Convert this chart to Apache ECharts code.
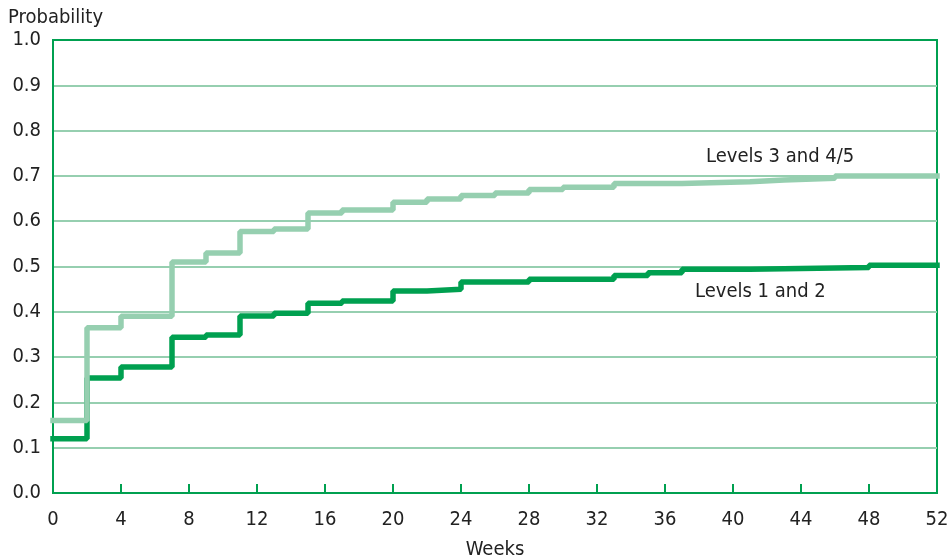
<!DOCTYPE html>
<html><head><meta charset="utf-8">
<script src="https://cdn.jsdelivr.net/npm/echarts@6/dist/echarts.min.js"></script>
<style>html,body{margin:0;padding:0;background:#fff}#c{width:948px;height:560px}</style>
</head><body><div id="c"></div>
<script>
// Week at which each step starts, and probability from that week on
const weeksLow = [0, 2, 4, 7, 9, 11, 13, 15, 17, 20, 22, 24, 28, 33, 35, 37, 41, 48, 52];
const probLow  = [0.12, 0.254, 0.278, 0.344, 0.349, 0.391, 0.397, 0.419, 0.424, 0.446, 0.450, 0.466, 0.472, 0.480, 0.486, 0.494, 0.498, 0.503, 0.503];
const weeksHigh = [0, 2, 4, 7, 9, 11, 13, 15, 17, 20, 22, 24, 26, 28, 30, 33, 37, 41, 43, 46, 52];
const probHigh  = [0.16, 0.365, 0.39, 0.51, 0.53, 0.577, 0.583, 0.618, 0.625, 0.642, 0.649, 0.657, 0.662, 0.670, 0.675, 0.683, 0.687, 0.691, 0.695, 0.700, 0.700];
const xTicks = [0, 4, 8, 12, 16, 20, 24, 28, 32, 36, 40, 44, 48, 52];
const yTicks = [0, 0.1, 0.2, 0.3, 0.4, 0.5, 0.6, 0.7, 0.8, 0.9, 1.0];
const labelHigh = 'Levels 3 and 4/5';
const labelLow = 'Levels 1 and 2';

const DARK = '#00a050', LIGHT = '#96cfb0';
const FONT = '"DejaVu Sans Condensed", "Liberation Sans Narrow", Roboto, sans-serif';
const FS = 20;
const chart = echarts.init(document.getElementById('c'));
const pairs = (xs, ys) => xs.map((x, i) => [x, ys[i]]);
chart.setOption({
  animation: false,
  grid: { left: 53, right: 11, top: 40, bottom: 67, containLabel: false, outerBoundsMode: 'none',
          show: true, borderColor: DARK, borderWidth: 2 },
  xAxis: {
    type: 'value', min: 0, max: 52, interval: 4,
    name: 'Weeks', nameLocation: 'middle', nameGap: 47,
    nameTextStyle: { fontFamily: FONT, fontSize: FS, color: '#222' },
    axisLine: { lineStyle: { color: DARK, width: 2 } },
    axisTick: { inside: true, length: 9, lineStyle: { color: DARK, width: 2 } },
    axisLabel: { fontFamily: FONT, fontSize: FS, color: '#222', margin: 17 },
    splitLine: { show: false }
  },
  yAxis: {
    type: 'value', min: 0, max: 1, interval: 0.1,
    axisLine: { show: true, lineStyle: { color: DARK, width: 2 } },
    axisTick: { show: false },
    axisLabel: { fontFamily: FONT, fontSize: FS, color: '#222', margin: 12, formatter: v => v.toFixed(1) },
    splitLine: { show: true, showMinLine: false, showMaxLine: false, lineStyle: { color: LIGHT, width: 2 } }
  },
  series: [
    { type: 'line', step: 'end', symbol: 'none', data: pairs(weeksLow, probLow),
      lineStyle: { color: DARK, width: 5.5, cap: 'square' }, z: 3 },
    { type: 'line', step: 'end', symbol: 'none', data: pairs(weeksHigh, probHigh),
      lineStyle: { color: LIGHT, width: 5.5, cap: 'square' }, z: 4 }
  ],
  graphic: [
    { type: 'text', left: 8, top: 8, style: { text: 'Probability', fontFamily: FONT, fontSize: FS, fill: '#222' } },
    { type: 'text', left: 706, top: 147, style: { text: labelHigh, fontFamily: FONT, fontSize: FS, fill: '#222' } },
    { type: 'text', left: 695, top: 282, style: { text: labelLow, fontFamily: FONT, fontSize: FS, fill: '#222' } }
  ]
});
</script></body></html>
